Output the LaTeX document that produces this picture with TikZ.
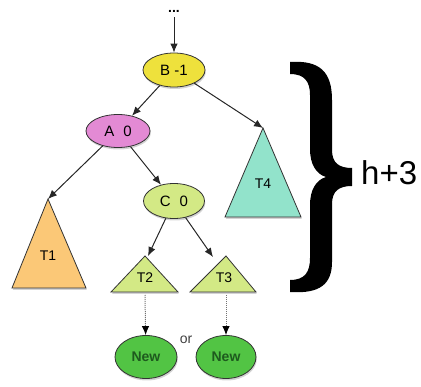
\documentclass[tikz,border=0pt]{standalone}
\usepackage{fontspec}
\setmainfont{Liberation Sans}
\usetikzlibrary{shapes.geometric,arrows.meta,shadows}
\definecolor{byel}{HTML}{EEE13C}
\definecolor{apink}{HTML}{E38AD4}
\definecolor{lgreen}{HTML}{D3E985}
\definecolor{torange}{HTML}{FBC877}
\definecolor{taqua}{HTML}{92E3CB}
\definecolor{ngreen}{HTML}{52C444}
\definecolor{ntext}{HTML}{1E5A1E}
\tikzset{
  shad/.style={drop shadow={opacity=0.35,shadow xshift=0.8pt,shadow yshift=-2pt}},
  ell/.style={ellipse,draw=black!80,line width=0.8pt,inner sep=0pt,shad,font=\fontsize{15}{15}\selectfont},
  tri/.style={draw=black!80,line width=0.8pt,shad},
  trilabel/.style={font=\fontsize{14}{14}\selectfont,inner sep=0pt},
  conn/.style={-{Latex[length=9pt,width=7.5pt]},line width=1pt,black!85},
  dconn/.style={densely dotted,line width=1pt,black!55,-{Latex[length=9pt,width=7.5pt,black]}}
}
\begin{document}
\begin{tikzpicture}[x=1pt,y=-1pt]
\useasboundingbox (0,0) rectangle (421,387);
% top dots
\node[font=\bfseries\fontsize{14}{14}\selectfont,inner sep=0pt] (dots) at (174,11) {...};
% ellipses
\node[ell,fill=byel,minimum width=62pt,minimum height=34pt] (B) at (174,70) {B -1};
\node[ell,fill=apink,minimum width=64pt,minimum height=33pt] (A) at (118,131) {A\hspace{0.6em}0};
\node[ell,fill=lgreen,minimum width=61pt,minimum height=35pt] (C) at (174,201) {C\hspace{0.6em}0};
% triangles
\path[tri,fill=torange] (48,199) -- (86,288) -- (12,288) -- cycle;
\coordinate (T1top) at (48,199);
\node[trilabel] (T1) at (48,256) {T1};
\path[tri,fill=taqua] (263,128) -- (301,217) -- (225,217) -- cycle;
\coordinate (T4top) at (263,128);
\node[trilabel] (T4) at (263,184) {T4};
\path[tri,fill=lgreen] (145,256) -- (178,292) -- (111,292) -- cycle;
\coordinate (T2top) at (148,256);
\coordinate (T2bot) at (145,292);
\node[trilabel] (T2) at (145,278) {T2};
\path[tri,fill=lgreen] (226,256) -- (256,292) -- (190,292) -- cycle;
\coordinate (T3top) at (213,257);
\coordinate (T3bot) at (226,292);
\node[trilabel] (T3) at (224,278) {T3};
% new nodes
\node[ell,fill=ngreen,text=ntext,minimum width=62pt,minimum height=43pt,font=\bfseries\fontsize{14}{14}\selectfont] (N1) at (146,357) {New};
\node[ell,fill=ngreen,text=ntext,minimum width=60pt,minimum height=43pt,font=\bfseries\fontsize{14}{14}\selectfont] (N2) at (226,357) {New};
\node[font=\fontsize{14}{14}\selectfont,text=black!75,inner sep=0pt] (or) at (186,340) {or};
% connectors
\draw[conn] (dots.south) ++(0,5) coordinate (dtop) (dtop) -- (B);
\draw[conn] (B) -- (A);
\draw[conn] (B) -- (T4top);
\draw[conn] (A) -- (T1top);
\draw[conn] (A) -- (C);
\draw[conn] (C) -- (T2top);
\draw[conn] (C) -- (T3top);
\draw[dconn] (T2bot) ++(0,3) coordinate (t2s) (t2s) -- (N1);
\draw[dconn] (T3bot) ++(0,3) coordinate (t3s) (t3s) -- (N2);
% brace
\fill[black] (290,62) .. controls (320,60) and (332,72) .. (332,100) -- (332,150)
  .. controls (332,163) and (339,168) .. (352,168) -- (352,186)
  .. controls (339,186) and (332,191) .. (332,204) -- (332,262)
  .. controls (332,284) and (320,294) .. (290,292) -- (290,280)
  .. controls (305,280) and (310,272) .. (310,258) -- (310,205)
  .. controls (310,190) and (316,180) .. (326,177)
  .. controls (316,174) and (310,164) .. (310,149) -- (310,95)
  .. controls (310,82) and (305,74) .. (290,74) -- cycle;
\node[font=\fontsize{33}{33}\selectfont,anchor=base west,inner sep=0pt] (h) at (361,185) {h+3};
\end{tikzpicture}
\end{document}
